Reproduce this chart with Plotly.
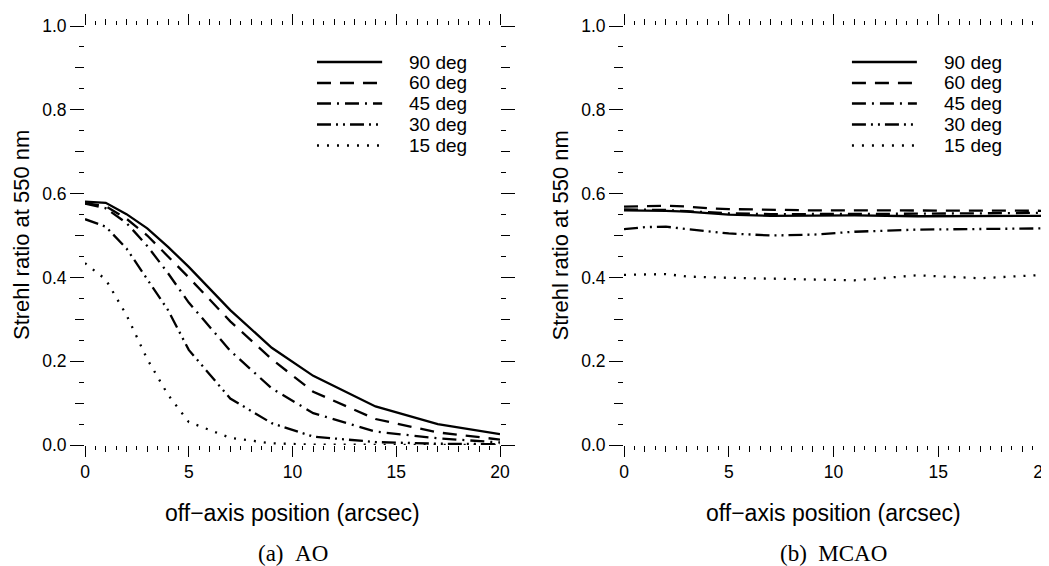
import plotly.graph_objects as go

# off-axis positions (arcsec) where the Strehl ratio was computed
offaxis = [0, 1, 2, 3, 4, 5, 7, 9, 11, 14, 17, 20]
labels = ["90 deg", "60 deg", "45 deg", "30 deg", "15 deg"]

# (a) AO
ao_90 = [0.581, 0.578, 0.551, 0.517, 0.473, 0.425, 0.322, 0.232, 0.165, 0.092, 0.050, 0.026]
ao_60 = [0.577, 0.570, 0.540, 0.500, 0.450, 0.400, 0.295, 0.205, 0.127, 0.062, 0.030, 0.013]
ao_45 = [0.576, 0.565, 0.530, 0.475, 0.410, 0.340, 0.225, 0.135, 0.076, 0.032, 0.016, 0.006]
ao_30 = [0.539, 0.521, 0.469, 0.394, 0.322, 0.227, 0.111, 0.052, 0.020, 0.007, 0.003, 0.002]
ao_15 = [0.434, 0.395, 0.310, 0.205, 0.120, 0.055, 0.017, 0.004, 0.001, 0.000, 0.000, 0.000]

# (b) MCAO
mcao_90 = [0.560, 0.560, 0.559, 0.557, 0.553, 0.550, 0.547, 0.547, 0.548, 0.546, 0.547, 0.547]
mcao_60 = [0.569, 0.570, 0.571, 0.569, 0.565, 0.563, 0.561, 0.560, 0.560, 0.560, 0.560, 0.559]
mcao_45 = [0.562, 0.562, 0.561, 0.558, 0.555, 0.553, 0.551, 0.551, 0.552, 0.552, 0.553, 0.554]
mcao_30 = [0.515, 0.520, 0.521, 0.515, 0.510, 0.505, 0.500, 0.502, 0.509, 0.514, 0.515, 0.517]
mcao_15 = [0.406, 0.407, 0.408, 0.402, 0.400, 0.399, 0.397, 0.395, 0.393, 0.405, 0.398, 0.406]

dashes = ["solid", "14px,9px", "14px,6px,2px,6px", "14px,5px,2px,5px,2px,5px", "2px,8px"]

SANS = "Liberation Sans, Arial, sans-serif"
SERIF = "Liberation Serif, Times New Roman, serif"

W, H = 1049, 566
OFF = 8  # the page body adds an 8px margin around the plot div


def px(xp):
    return (xp - OFF) / W


def py(yp):
    return 1 - (yp - OFF) / H


fig = go.Figure()

panels = [("x", "y", [ao_90, ao_60, ao_45, ao_30, ao_15]),
          ("x2", "y2", [mcao_90, mcao_60, mcao_45, mcao_30, mcao_15])]
for xa, ya, series in panels:
    for lab, vals, dash in zip(labels, series, dashes):
        fig.add_trace(go.Scatter(x=offaxis, y=vals, name=lab, mode="lines",
                                 line=dict(color="black", width=2.3, dash=dash),
                                 xaxis=xa, yaxis=ya, showlegend=False))

# empty traces so the overlay tick axes get drawn
fig.add_trace(go.Scatter(x=[], y=[], xaxis="x3", yaxis="y3", showlegend=False, hoverinfo="skip"))
fig.add_trace(go.Scatter(x=[], y=[], xaxis="x4", yaxis="y4", showlegend=False, hoverinfo="skip"))

dom_y = [py(445), py(26)]
dom_x1 = [px(85), px(500)]
dom_x2 = [px(624), px(1043)]

half_x = [i + 0.5 for i in range(20)]
half_y = [0.05 + 0.1 * i for i in range(10)]


def xmain(dom, anchor):
    return dict(domain=dom, anchor=anchor, range=[0, 20], tickvals=[0, 5, 10, 15, 20],
                ticks="outside", ticklen=11, tickwidth=1, tickcolor="black", mirror="ticks",
                showline=False, showgrid=False, zeroline=False, automargin=False,
                ticklabeloverflow="allow",
                tickfont=dict(family=SANS, size=17.5, color="black"),
                minor=dict(tickvals=list(range(21)), ticks="outside", ticklen=6,
                           tickwidth=1, tickcolor="black"))


def ymain(anchor):
    return dict(domain=dom_y, anchor=anchor, range=[0, 1], tickvals=[0, 0.2, 0.4, 0.6, 0.8, 1.0],
                tickformat=".1f", ticks="outside", ticklen=14, tickwidth=1, tickcolor="black",
                mirror="ticks", showline=False, showgrid=False, zeroline=False, automargin=False,
                tickfont=dict(family=SANS, size=17.5, color="black"),
                minor=dict(tickvals=[0.1, 0.3, 0.5, 0.7, 0.9], ticks="outside", ticklen=9,
                           tickwidth=1, tickcolor="black"))


def xover(main, anchor):
    return dict(overlaying=main, anchor=anchor, range=[0, 20], tickvals=half_x,
                ticks="outside", ticklen=4, tickwidth=1, tickcolor="black", mirror="ticks",
                showticklabels=False, showline=False, showgrid=False, zeroline=False,
                automargin=False)


def yover(main, anchor):
    return dict(overlaying=main, anchor=anchor, range=[0, 1], tickvals=half_y,
                ticks="outside", ticklen=5, tickwidth=1, tickcolor="black", mirror="ticks",
                showticklabels=False, showline=False, showgrid=False, zeroline=False,
                automargin=False)


fig.update_layout(
    width=W, height=H,
    margin=dict(l=0, r=0, t=0, b=0, pad=0, autoexpand=False),
    paper_bgcolor="white", plot_bgcolor="white",
    font=dict(family=SANS, color="black"),
    showlegend=False,
    xaxis=xmain(dom_x1, "y"), yaxis=ymain("x"),
    xaxis2=xmain(dom_x2, "y2"), yaxis2=ymain("x2"),
    xaxis3=xover("x", "y"), yaxis3=yover("y", "x"),
    xaxis4=xover("x2", "y2"), yaxis4=yover("y2", "x2"),
)

# hand-drawn legends with long line keys
key_rows = [0.914, 0.864, 0.815, 0.765, 0.715]
legend_pos = [("x domain", "y domain", 0.559, 0.716, 0.776),
              ("x2 domain", "y2 domain", 0.544, 0.699, 0.759)]
for xref, yref, k0, k1, kt in legend_pos:
    for lab, dash, yy in zip(labels, dashes, key_rows):
        fig.add_shape(type="line", xref=xref, yref=yref, x0=k0, x1=k1, y0=yy, y1=yy,
                      line=dict(color="black", width=2.5, dash=dash))
        fig.add_annotation(xref=xref, yref=yref, x=kt, y=yy, text=lab, showarrow=False,
                           xanchor="left", yanchor="middle",
                           font=dict(family=SANS, size=19, color="black"))

# axis titles and captions
for cx, ytx, cap in [(292.5, 21.5, "(a)\u00a0\u00a0AO"), (833.5, 560, "(b)\u00a0\u00a0MCAO")]:
    fig.add_annotation(xref="paper", yref="paper", x=px(cx), y=py(513),
                       xanchor="center", yanchor="middle",
                       text="off\u2212axis position (arcsec)", showarrow=False,
                       font=dict(family=SANS, size=23, color="black"))
    fig.add_annotation(xref="paper", yref="paper", x=px(ytx), y=py(235.5),
                       xanchor="center", yanchor="middle",
                       text="Strehl ratio at 550 nm", showarrow=False, textangle=-90,
                       font=dict(family=SANS, size=22, color="black"))
    fig.add_annotation(xref="paper", yref="paper", x=px(cx), y=py(553),
                       xanchor="center", yanchor="middle",
                       text=cap, showarrow=False,
                       font=dict(family=SERIF, size=23, color="black"))

fig.write_html("out.html")
